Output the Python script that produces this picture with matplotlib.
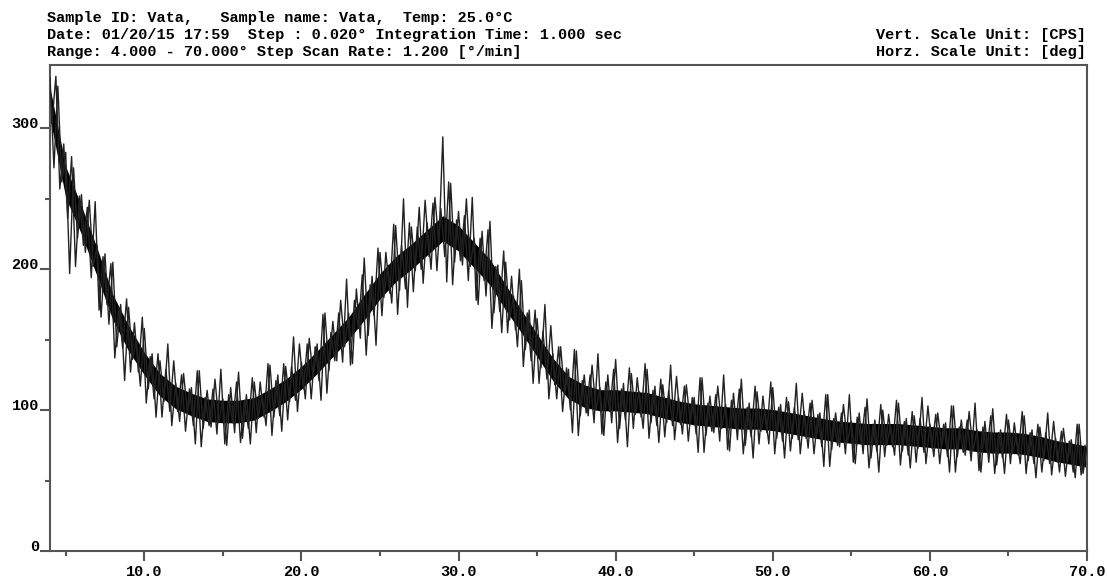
import numpy as np
import matplotlib
matplotlib.use("Agg")
import matplotlib.pyplot as plt
from matplotlib.transforms import ScaledTranslation

# ---------------- data ----------------
# band centre (CPS) at 1 degree steps, 4..70 deg 2-theta
grid_deg = list(range(4, 71))
mean_cps = [318, 262, 235, 205, 173, 151, 133, 118, 109, 104,
            100, 99, 99, 101, 107, 114, 123, 134, 146, 158,
            173, 188, 200, 209, 219, 229, 222, 210, 198, 180,
            163, 146, 129, 116, 110, 107, 107, 106, 105, 102,
            99, 97, 96, 95, 94, 94, 93, 91, 89, 87,
            85, 84, 83, 83, 83, 82, 81, 80, 80, 78,
            77, 77, 76, 74, 71, 69, 67]
# half width of the dense (solid black) core of the trace, CPS
core_halfwidth = [11, 11, 10, 10, 9, 9, 8, 8, 8, 8,
                  8, 8, 8, 8, 8, 8, 8, 8, 8, 8,
                  9, 9, 9, 9, 9, 9, 9, 9, 9, 9,
                  8, 8, 8, 8, 8] + [7.5] * 32

# spike extremes of the noisy trace, every 0.25 deg from 4.00 to 70.00
spike_start, spike_step = 4.0, 0.25
spike_cps = [
    336, 272, 330, 262, 283, 197, 272, 222,          # 4
    253, 212, 249, 202, 217, 166, 211, 161,          # 6
    205, 145, 175, 121, 173, 136, 150, 117,          # 8
    158, 115, 140, 95, 135, 106, 147, 89,            # 10
    119, 92, 126, 98, 116, 76, 128, 87,              # 12
    114, 88, 122, 91, 108, 75, 116, 84,              # 14
    127, 80, 111, 76, 120, 94, 111, 89,              # 16
    132, 95, 125, 85, 131, 106, 152, 99,             # 18
    134, 108, 151, 123, 147, 107, 169, 128,          # 20
    163, 135, 178, 145, 169, 133, 186, 151,          # 22
    208, 153, 195, 146, 212, 180, 203, 176,          # 24
    231, 185, 250, 173, 230, 199, 244, 190,          # 26
    233, 200, 251, 218, 294, 191, 261, 205,          # 28
    241, 203, 250, 202, 222, 175, 227, 181,          # 30
    234, 169, 203, 155, 205, 164, 181, 145,          # 32
    192, 143, 171, 119, 165, 130, 175, 108,          # 34
    140, 108, 145, 111, 129, 84, 142, 96,            # 36
    125, 96, 132, 100, 116, 82, 125, 91,             # 38
    136, 87, 119, 74, 126, 97, 113, 87,              # 40
    129, 91, 117, 77, 118, 91, 132, 79,              # 42
    109, 83, 118, 91, 109, 70, 123, 82,              # 44
    110, 84, 117, 87, 104, 71, 112, 79,              # 46
    122, 75, 105, 66, 113, 85, 100, 76,              # 48
    116, 80, 104, 66, 106, 80, 119, 69,              # 50
    99, 73, 107, 80, 98, 60, 111, 72,                # 52
    98, 74, 104, 77, 92, 62, 98, 69,                 # 54
    108, 66, 93, 56, 100, 75, 89, 68,                # 56
    105, 71, 94, 59, 96, 73, 109, 62,                # 58
    90, 67, 98, 74, 91, 56, 103, 67,                 # 60
    93, 68, 99, 71, 86, 56, 92, 63,                  # 62
    101, 61, 86, 55, 93, 69, 82, 62,                 # 64
    96, 64, 86, 52, 88, 64, 98, 54,                  # 66
    80, 56, 87, 63, 79, 52, 90, 55,                  # 68
    74,                                              # 70
]

# the interleaved spikes, every 0.25 deg from 4.125 to 69.875
mid_start, mid_step = 4.125, 0.25
mid_cps = [
    304, 337, 257, 289, 236, 280, 202, 252,          # 4
    217, 244, 194, 248, 171, 209, 175, 204,          # 6
    137, 173, 144, 179, 127, 162, 127, 166,          # 8
    105, 138, 108, 140, 95, 129, 99, 135,            # 10
    99, 125, 85, 115, 89, 128, 74, 109,              # 12
    89, 115, 83, 129, 76, 111, 91, 120,              # 14
    77, 107, 87, 123, 84, 120, 95, 133,              # 16
    82, 121, 96, 133, 93, 131, 107, 147,             # 18
    115, 147, 108, 145, 121, 168, 112, 155,          # 20
    135, 169, 134, 193, 132, 178, 158, 196,          # 22
    139, 189, 167, 215, 167, 212, 183, 232,          # 24
    168, 217, 186, 233, 184, 230, 200, 249,          # 26
    209, 247, 199, 243, 209, 262, 189, 235,          # 28
    206, 238, 192, 251, 178, 222, 192, 228,          # 30
    158, 202, 170, 213, 155, 195, 157, 200,          # 32
    131, 169, 135, 171, 119, 156, 122, 160,          # 34
    118, 145, 99, 130, 100, 143, 82, 121,            # 36
    98, 125, 91, 140, 83, 120, 99, 129,              # 38
    77, 115, 93, 130, 87, 123, 95, 133,              # 40
    80, 114, 89, 122, 81, 114, 89, 124,              # 42
    90, 117, 78, 109, 83, 123, 70, 105,              # 44
    85, 111, 78, 125, 72, 107, 87, 115,              # 46
    69, 102, 81, 117, 76, 110, 84, 120,              # 48
    69, 102, 78, 109, 71, 102, 79, 112,              # 50
    80, 105, 69, 97, 74, 111, 60, 94,                # 52
    75, 98, 69, 111, 63, 95, 76, 102,                # 54
    59, 90, 71, 104, 67, 97, 74, 107,                # 56
    61, 92, 68, 99, 63, 94, 70, 103,                 # 58
    73, 97, 62, 90, 67, 103, 56, 88,                 # 60
    70, 93, 64, 105, 57, 88, 70, 96,                 # 62
    55, 84, 66, 97, 62, 91, 68, 99,                  # 64
    55, 84, 62, 90, 56, 84, 62, 92,                  # 66
    63, 85, 53, 78, 56, 90, 54, 75,                  # 68
]

x_ticks_major = [10, 20, 30, 40, 50, 60, 70]
x_tick_labels = ["10.0", "20.0", "30.0", "40.0", "50.0", "60.0", "70.0"]
x_ticks_minor = [5, 15, 25, 35, 45, 55, 65]
y_ticks_major = [0, 100, 200, 300]
y_tick_labels = ["0", "100", "200", "300"]
y_ticks_minor = [50, 150, 250]

header_left = ["Sample ID: Vata,   Sample name: Vata,  Temp: 25.0\u00b0C",
               "Date: 01/20/15 17:59  Step : 0.020\u00b0 Integration Time: 1.000 sec",
               "Range: 4.000 - 70.000\u00b0 Step Scan Rate: 1.200 [\u00b0/min]"]
header_right = ["Vert. Scale Unit: [CPS]", "Horz. Scale Unit: [deg]"]

# ---------------- drawing ----------------
W, H, DPI = 1107, 579, 100
fig = plt.figure(figsize=(W / DPI, H / DPI), dpi=DPI)
fig.patch.set_facecolor("white")
ax = fig.add_axes([50 / W, 1 - 551 / H, (1087 - 50) / W, (551 - 65) / H])

font = dict(family="Liberation Mono", weight="bold", size=11)

grid = np.array(grid_deg, dtype=float)
mean = np.array(mean_cps, dtype=float)
hw = np.array(core_halfwidth, dtype=float)

sp = np.array(spike_cps, dtype=float)
sp_x = spike_start + spike_step * np.arange(len(sp))
md = np.array(mid_cps, dtype=float)
md_x = mid_start + mid_step * np.arange(len(md))

ax.fill_between(grid, mean - hw, mean + hw, color="black", lw=0, zorder=2)
ax.plot(sp_x, sp, color="#222222", lw=1.0, zorder=3)
ax.plot(md_x, md, color="#222222", lw=1.0, zorder=3)

ax.set_xlim(4, 70)
ax.set_ylim(0, 345)

spine_col = "#555555"
for s in ax.spines.values():
    s.set_color(spine_col)
    s.set_linewidth(1.5)

ax.set_xticks(x_ticks_major)
ax.set_xticklabels(x_tick_labels, **font)
ax.set_xticks(x_ticks_minor, minor=True)
ax.set_yticks(y_ticks_major)
ax.set_yticklabels(y_tick_labels, **font)
ax.set_yticks(y_ticks_minor, minor=True)

ax.tick_params(axis="x", which="major", direction="out", length=7, width=1.5,
               color=spine_col, pad=3)
ax.tick_params(axis="x", which="minor", direction="out", length=3.5, width=1.5,
               color=spine_col)
ax.tick_params(axis="y", which="major", direction="out", length=7, width=1.5,
               color=spine_col, pad=1)
ax.tick_params(axis="y", which="minor", direction="out", length=3.5, width=1.5,
               color=spine_col)

offset = ScaledTranslation(0, 4 / 72, fig.dpi_scale_trans)
for lab in ax.get_yticklabels():
    lab.set_transform(lab.get_transform() + offset)

for i, line in enumerate(header_left):
    fig.text(47 / W, 1 - (18 + 17 * i) / H, line, ha="left", va="center", **font)
for i, line in enumerate(header_right):
    fig.text(1086 / W, 1 - (35 + 17 * i) / H, line, ha="right", va="center", **font)

fig.savefig("out.png", dpi=DPI, facecolor="white")
